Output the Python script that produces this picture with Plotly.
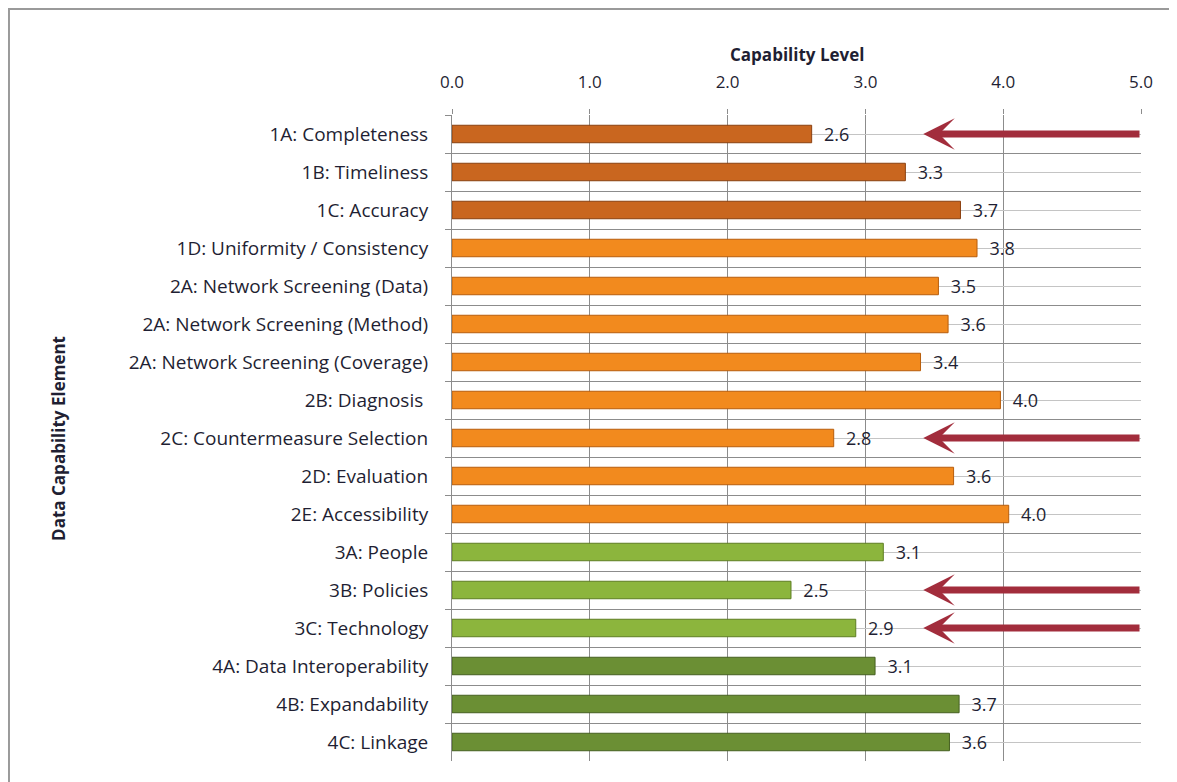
import plotly.graph_objects as go

elements = [
    "1A: Completeness", "1B: Timeliness", "1C: Accuracy", "1D: Uniformity / Consistency",
    "2A: Network Screening (Data)", "2A: Network Screening (Method)",
    "2A: Network Screening (Coverage)", "2B: Diagnosis ", "2C: Countermeasure Selection",
    "2D: Evaluation", "2E: Accessibility", "3A: People", "3B: Policies",
    "3C: Technology", "4A: Data Interoperability", "4B: Expandability", "4C: Linkage",
]
levels = [2.61, 3.29, 3.69, 3.81, 3.53, 3.60, 3.40, 3.98, 2.77, 3.64, 4.04,
          3.13, 2.46, 2.93, 3.07, 3.68, 3.61]
shade = ["dk_orange", "dk_orange", "dk_orange", "orange", "orange", "orange", "orange",
         "orange", "orange", "orange", "orange", "lt_green", "lt_green", "lt_green",
         "dk_green", "dk_green", "dk_green"]
flagged = ["1A: Completeness", "2C: Countermeasure Selection", "3B: Policies", "3C: Technology"]
x_ticks = [0, 1, 2, 3, 4, 5]

palette = {
    "dk_orange": ("#c9661f", "#8a4010"),
    "orange": ("#f28a1e", "#b85e0c"),
    "lt_green": ("#8cb53d", "#5d7e22"),
    "dk_green": ("#6b8f34", "#456020"),
}

FONT = "Open Sans"
txt = "#1f1f33"
n = len(elements)

fig = go.Figure()

# invisible trace so the overlaid axis (centre gridlines) gets drawn
fig.add_trace(go.Scatter(x=[None] * n, y=elements, yaxis="y2",
                         mode="markers", showlegend=False, hoverinfo="skip"))

fig.add_trace(go.Bar(
    x=levels, y=elements, orientation="h", width=0.46,
    marker=dict(color=[palette[s][0] for s in shade],
                line=dict(color=[palette[s][1] for s in shade], width=1)),
    texttemplate="  %{x:.1f}", textposition="outside", cliponaxis=False,
    constraintext="none",
    textfont=dict(family=FONT, size=18, color=txt),
    showlegend=False,
))

for name in flagged:
    fig.add_annotation(x=3.42, y=name, ax=5.0, ay=name, xref="x", yref="y",
                       axref="x", ayref="y", showarrow=True, arrowhead=3,
                       arrowsize=0.75, arrowwidth=7, arrowcolor="#a22d3c", text="")

fig.update_xaxes(
    side="top", range=[0, 5], tickvals=x_ticks, tickformat=".1f",
    showgrid=True, gridcolor="#8c8c8c", gridwidth=1, automargin=False,
    ticks="outside", ticklen=5, tickcolor="#8c8c8c", ticklabelstandoff=14,
    tickfont=dict(family=FONT, size=17, color=txt),
    showline=False, zeroline=False,
)
fig.update_layout(
    yaxis=dict(
        type="category", categoryorder="array", categoryarray=elements,
        range=[n - 0.5, -0.5], tickson="boundaries", showgrid=True, automargin=False,
        gridcolor="#8c8c8c", gridwidth=1, ticks="outside", ticklen=6,
        tickcolor="#8c8c8c", showline=True, linecolor="#8c8c8c", linewidth=1,
        ticklabelstandoff=19, tickfont=dict(family=FONT, size=19, color=txt),
    ),
    yaxis2=dict(
        type="category", categoryorder="array", categoryarray=elements,
        range=[n - 0.5, -0.5], overlaying="y", showgrid=True, automargin=False,
        gridcolor="#c4c4c4", gridwidth=1, showticklabels=False, ticks="",
    ),
)

fig.add_annotation(text="<b>Capability Level</b>", xref="paper", yref="paper",
                   x=0.5, y=1.093, xanchor="center", yanchor="middle", showarrow=False,
                   font=dict(family=FONT, size=17, color=txt))
fig.add_annotation(text="<b>Data Capability Element</b>", xref="paper", yref="paper",
                   x=-0.572, y=0.5, xanchor="center", yanchor="middle",
                   textangle=-90, showarrow=False,
                   font=dict(family=FONT, size=17, color=txt))

# outer chart frame (cropped at right/bottom in the original)
fig.add_shape(type="rect", xref="paper", yref="paper", x0=-0.643, x1=1.2,
              y0=-0.2, y1=1.164, line=dict(color="#9a9a9a", width=2))

fig.update_layout(
    width=1169, height=774,
    margin=dict(l=444, r=36, t=107, b=21),
    paper_bgcolor="white", plot_bgcolor="white",
    barmode="overlay",
)

fig.write_html("out.html")
